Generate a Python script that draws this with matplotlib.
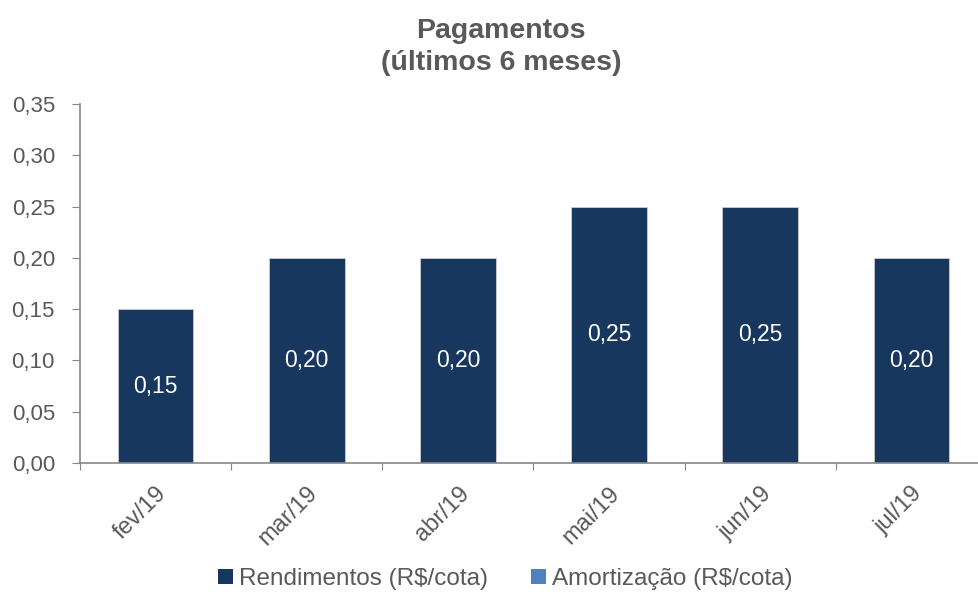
import matplotlib
matplotlib.use("Agg")
import matplotlib.pyplot as plt
from matplotlib.patches import Patch
import numpy as np

plt.rcParams['font.family'] = ['Liberation Sans', 'DejaVu Sans']

categories = ["fev/19", "mar/19", "abr/19", "mai/19", "jun/19", "jul/19"]
rendimentos = [0.15, 0.20, 0.20, 0.25, 0.25, 0.20]
amortizacao = [0, 0, 0, 0, 0, 0]
yticks = [0.00, 0.05, 0.10, 0.15, 0.20, 0.25, 0.30, 0.35]

c_rend = "#17375E"
c_amort = "#4F81BD"
txt = "#595959"
spine = "#868686"

fig = plt.figure(figsize=(9.79, 5.92), dpi=100)
ax = fig.add_axes([80/979, (592-463)/592, (987-80)/979, (463-104)/592])

x = np.arange(len(categories))
ax.bar(x, rendimentos, width=0.5, color=c_rend, edgecolor="#D9D9D9", linewidth=0.5)
ax.bar(x, amortizacao, width=0.5, bottom=rendimentos, color=c_amort, linewidth=0)

for xi, v in zip(x, rendimentos):
    ax.text(xi, v/2, f"{v:.2f}".replace(".", ","), ha="center", va="center",
            color="white", fontsize=16.5)

ax.set_xlim(-0.5, len(categories)-0.5)
ax.set_ylim(0, 0.35)
ax.set_yticks(yticks)
ax.set_yticklabels([f"{t:.2f}".replace(".", ",") for t in yticks])
ax.tick_params(axis="y", direction="out", length=6, color=spine, labelcolor=txt,
               labelsize=16, pad=12)

ax.set_xticks(np.arange(len(categories)+1) - 0.5)
ax.set_xticklabels([])
ax.tick_params(axis="x", which="major", direction="out", length=5, color=spine)
ax.set_xticks(x, minor=True)
ax.set_xticklabels(categories, minor=True, rotation=45, ha="right", va="top",
                   rotation_mode="anchor", color=txt, fontsize=17)
ax.tick_params(axis="x", which="minor", length=0, pad=14)

for s in ["top", "right"]:
    ax.spines[s].set_visible(False)
for s in ["left", "bottom"]:
    ax.spines[s].set_color(spine)
    ax.spines[s].set_linewidth(1.2)

fig.text(0.512, 1 - 38/592, "Pagamentos", ha="center", va="baseline",
         fontsize=20.5, fontweight="bold", color=txt)
fig.text(0.512, 1 - 70/592, "(últimos 6 meses)", ha="center", va="baseline",
         fontsize=20.5, fontweight="bold", color=txt)

handles = [Patch(facecolor=c_rend, label="Rendimentos (R$/cota)"),
           Patch(facecolor=c_amort, label="Amortização (R$/cota)")]
leg = fig.legend(handles=handles, loc="center", bbox_to_anchor=(0.516, 0.022),
                 ncol=2, frameon=False, fontsize=17.5, handlelength=0.62,
                 handleheight=0.62, handletextpad=0.25, columnspacing=1.75,
                 borderpad=0, borderaxespad=0)
for t in leg.get_texts():
    t.set_color(txt)

fig.savefig("out.png", dpi=100)
